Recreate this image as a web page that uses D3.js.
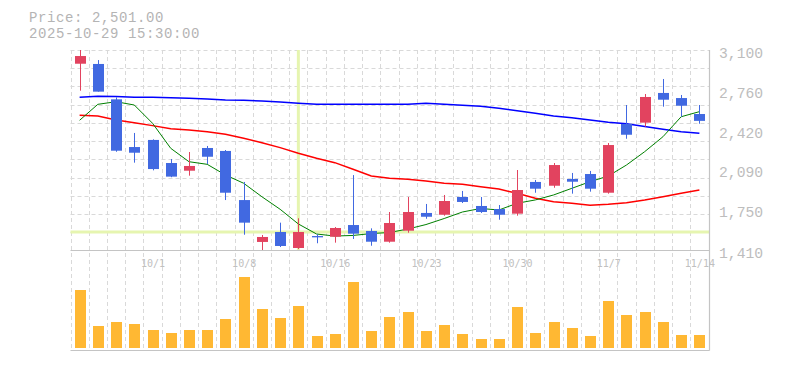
<!DOCTYPE html>
<html>
<head>
<meta charset="utf-8">
<script src="https://cdn.jsdelivr.net/npm/d3@7"></script>
<style>
  body { margin: 0; background: #fff; }
  svg { display: block; }
</style>
</head>
<body>
<svg width="785" height="370"></svg>
<script>
// trading days shown on the chart
const dates = ["9/25","9/26","9/29","9/30","10/1","10/2","10/3","10/6","10/7","10/8",
  "10/9","10/10","10/14","10/15","10/16","10/17","10/20","10/21","10/22","10/23",
  "10/24","10/27","10/28","10/29","10/30","10/31","11/4","11/5","11/6","11/7",
  "11/10","11/11","11/12","11/13","11/14"];

const opens  = [2984,2982,2683,2280,2340,2145,2080,2272,2247,1832,1478,1562,1427,1528,1522,1621,1571,1480,1573,1723,
                1708,1858,1782,1756,1717,1985,1953,2010,2052,1894,2475,2486,2737,2694,2559];
const highs  = [3100,3015,2700,2399,2345,2179,2238,2289,2255,1985,1537,1641,1678,1543,1604,2043,1593,1731,1858,1799,
                1875,1909,1858,1790,2086,2002,2145,2061,2078,2314,2635,2728,2855,2720,2635];
const lows   = [2756,2748,2240,2148,2083,2025,2038,2137,1832,1539,1410,1435,1418,1467,1472,1503,1446,1472,1556,1674,
                1700,1807,1723,1666,1700,1894,1936,1886,1903,1886,2350,2452,2621,2536,2477];
const closes = [3049,2748,2249,2232,2094,2030,2120,2198,1894,1641,1520,1444,1562,1517,1596,1548,1480,1638,1731,1691,
                1824,1816,1731,1708,1917,1928,2128,1987,1928,2297,2384,2703,2680,2629,2501];

// volume (thousand shares)
const volumes = [580,220,260,240,180,150,180,180,290,710,390,300,420,120,140,660,170,310,360,170,
                 230,140,90,90,410,150,260,200,120,470,330,360,260,130,130];

// moving averages
const maShort = [2506,2641,2663,2635,2481,2269,2156,2134,2044,1974,1860,1754,1630,1545,1528,1533,1549,1558,1587,1625,
                 1676,1731,1761,1748,1805,1833,1875,1931,1987,2035,2128,2241,2367,2536,2579];
const maMid   = [2548,2542,2509,2486,2461,2435,2424,2410,2388,2354,2317,2275,2228,2185,2148,2092,2036,2016,2007,1993,
                 1974,1965,1945,1925,1889,1847,1818,1805,1788,1796,1810,1832,1860,1889,1917];
const maLong  = [2700,2709,2707,2700,2700,2696,2692,2686,2677,2675,2669,2661,2650,2641,2641,2641,2641,2641,2641,2650,
                 2641,2633,2624,2607,2587,2565,2542,2528,2509,2490,2476,2453,2431,2410,2396];

const yTicks = [1410, 1750, 2090, 2420, 2760, 3100];
const xTickLabels = ["10/1","10/8","10/16","10/23","10/30","11/7","11/14"];

const crossIndex = 12;

document.addEventListener("DOMContentLoaded", function () {
  const svg = d3.select("svg");
  const left = 70.5, right = 708.5, top = 50, priceBottom = 250, volBottom = 350;

  const x = d3.scaleBand().domain(dates).range([left, right]).paddingInner(0).paddingOuter(0);
  const step = x.step();
  const cx = (i) => x(dates[i]) + step / 2;
  const y = d3.scaleLinear().domain([1410, 3100]).range([priceBottom, top]);
  const yVol = d3.scaleLinear().domain([0, 1000]).range([348, 248]);

  // header
  const mono = "'Liberation Mono', 'DejaVu Sans Mono', monospace";
  svg.append("text").attr("x", 29).attr("y", 22).text("Price: 2,501.00")
    .attr("fill", "#b4b4b4").style("font-family", mono).style("font-size", "14px")
    .style("letter-spacing", "0.6px");
  svg.append("text").attr("x", 29).attr("y", 38).text("2025-10-29 15:30:00")
    .attr("fill", "#b4b4b4").style("font-family", mono).style("font-size", "14px")
    .style("letter-spacing", "0.6px");

  // grid
  const grid = svg.append("g").attr("stroke", "#d9d9d9").attr("stroke-dasharray", "4,3");
  for (let k = 0; k < dates.length; k++) {
    const gx = Math.round(left + k * step) + 0.5;
    grid.append("line").attr("x1", gx).attr("x2", gx).attr("y1", top).attr("y2", volBottom);
  }
  for (let k = 0; 50 + k * step < priceBottom - 2; k++) {
    const gy = Math.round(top + k * step) + 0.5;
    grid.append("line").attr("x1", left).attr("x2", 709.5).attr("y1", gy).attr("y2", gy);
  }

  // crosshair
  svg.append("line")
    .attr("x1", cx(crossIndex)).attr("x2", cx(crossIndex))
    .attr("y1", top).attr("y2", priceBottom)
    .attr("stroke", "#e6f5b0").attr("stroke-width", 3);
  svg.append("line")
    .attr("x1", left).attr("x2", 709.5)
    .attr("y1", y(closes[crossIndex])).attr("y2", y(closes[crossIndex]))
    .attr("stroke", "#e6f5b0").attr("stroke-width", 3);

  // borders
  const border = svg.append("g").attr("stroke", "#c4c4c4").attr("stroke-width", 1.2);
  border.append("line").attr("x1", left).attr("x2", 709.5).attr("y1", 250.5).attr("y2", 250.5);
  border.append("line").attr("x1", left).attr("x2", 709.5).attr("y1", 350.5).attr("y2", 350.5);
  border.append("line").attr("x1", 709.5).attr("x2", 709.5).attr("y1", top).attr("y2", 350.5);

  // moving averages
  const line = (vals) => d3.line().x((d, i) => cx(i)).y((d) => y(d))(vals);
  svg.append("path").attr("d", line(maLong)).attr("fill", "none").attr("stroke", "#0000ff").attr("stroke-width", 1.5);
  svg.append("path").attr("d", line(maMid)).attr("fill", "none").attr("stroke", "#ff0000").attr("stroke-width", 1.5);
  svg.append("path").attr("d", line(maShort)).attr("fill", "none").attr("stroke", "#008000").attr("stroke-width", 1);

  // candles
  const idx = d3.range(dates.length);
  const colorOf = (i) => (closes[i] >= opens[i] ? "#e2435f" : "#4169e1");
  const candles = svg.append("g");
  candles.selectAll(".wick").data(idx).enter().append("line")
    .attr("class", "wick")
    .attr("x1", (i) => Math.round(cx(i)) + 0.5).attr("x2", (i) => Math.round(cx(i)) + 0.5)
    .attr("y1", (i) => y(highs[i])).attr("y2", (i) => y(lows[i]))
    .attr("stroke", colorOf).attr("stroke-width", 1);
  candles.selectAll(".body").data(idx).enter().append("rect")
    .attr("class", "body")
    .attr("x", (i) => Math.round(cx(i)) - 5)
    .attr("width", 11)
    .attr("y", (i) => y(Math.max(opens[i], closes[i])))
    .attr("height", (i) => Math.max(1, Math.abs(y(opens[i]) - y(closes[i]))))
    .attr("fill", colorOf);

  // volume
  svg.append("g").selectAll("rect").data(idx).enter().append("rect")
    .attr("x", (i) => Math.round(cx(i)) - 5)
    .attr("width", 11)
    .attr("y", (i) => yVol(volumes[i]))
    .attr("height", (i) => yVol(0) - yVol(volumes[i]))
    .attr("fill", "#ffb833");

  // date labels
  svg.append("g").selectAll("text").data(xTickLabels).enter().append("text")
    .attr("x", (d) => cx(dates.indexOf(d)) + 0.5)
    .attr("y", 266.5)
    .attr("text-anchor", "middle")
    .attr("fill", "#c0c0c0")
    .style("font-family", "'DejaVu Sans Mono', monospace")
    .style("font-size", "10px")
    .text((d) => d);

  // price axis labels
  svg.append("g").selectAll("text").data(yTicks).enter().append("text")
    .attr("x", 719)
    .attr("y", (d) => y(d) + 7.5)
    .attr("fill", "#bdbdbd")
    .style("font-family", mono)
    .style("font-size", "14.7px")
    .text((d) => d3.format(",")(d));
});
</script>
</body>
</html>
